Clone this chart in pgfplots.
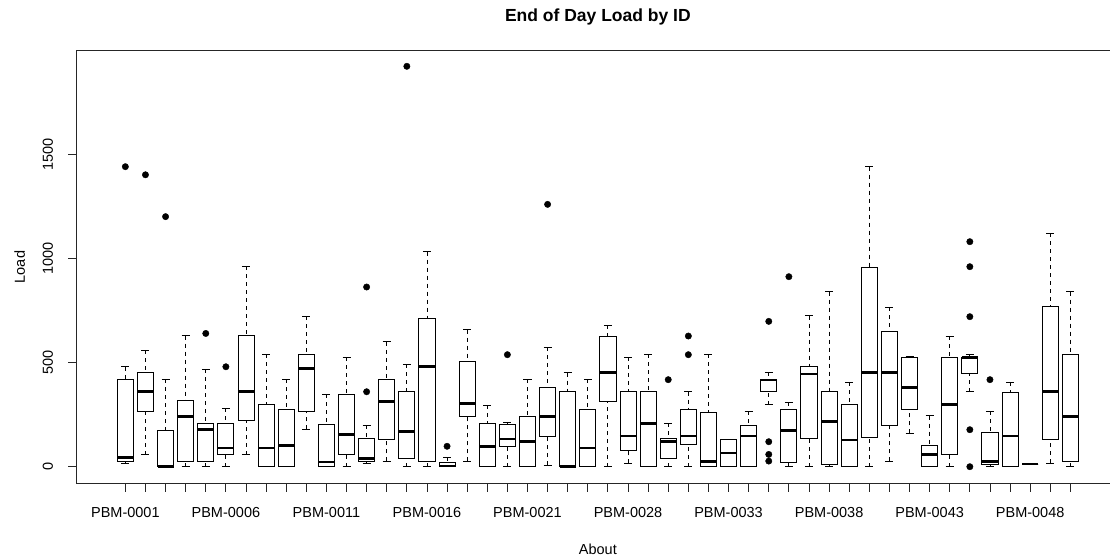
\documentclass[border=0pt]{standalone}
\usepackage{fontspec}
\setmainfont{Liberation Sans}
\usepackage{pgfplots}
\pgfplotsset{compat=1.18}
\usepgfplotslibrary{statistics}

\newcommand{\lblfont}{\fontsize{14.5}{17}\selectfont}

\pgfplotsset{
  rbox/.style={black, line width=0.9pt, mark=none},
}

\begin{document}
\begin{tikzpicture}
\useasboundingbox (-76.7pt,-72.7pt) rectangle (1033.3pt,483.3pt);
\begin{axis}[
    at={(0pt,0pt)}, anchor=south west,
    scale only axis,
    width=1042.3pt, height=432.6pt,
    xmin=-1.42, xmax=50.42,
    ymin=-79.7, ymax=1998,
    axis line style={black!85, line width=0.9pt},
    tick align=outside, tick pos=left,
    major tick length=8.4pt,
    every tick/.style={black!85, line width=0.9pt},
    xtick={1,...,48},
    xticklabels={PBM-0001,{},{},{},{},PBM-0006,{},{},{},{},PBM-0011,{},{},{},{},PBM-0016,{},{},{},{},PBM-0021,{},{},{},{},PBM-0028,{},{},{},{},PBM-0033,{},{},{},{},PBM-0038,{},{},{},{},PBM-0043,{},{},{},{},PBM-0048,{},{}},
    ytick={0,500,1000,1500},
    /pgf/number format/assume math mode=true,
    /pgf/number format/1000 sep={},
    xticklabel style={font=\lblfont, anchor=north, inner sep=0pt, yshift=-15.3pt},
    yticklabel style={font=\lblfont, xshift=-15pt, rotate=90, anchor=south, inner sep=0pt},
    title={End of Day Load by ID},
    every axis title/.style={at={(axis description cs:0.5,1)}, anchor=base, yshift=28.7pt,
      font=\bfseries\fontsize{17.5}{20}\selectfont},
    xlabel={About},
    every axis x label/.style={at={(axis description cs:0.5,0)}, anchor=base, yshift=-71pt, font=\lblfont},
    ylabel={Load},
    every axis y label/.style={at={(axis description cs:0,0.5)}, xshift=-51.7pt, rotate=90, anchor=base, font=\lblfont},
    boxplot/draw direction=y,
    boxplot/box extend=0.8,
    boxplot/whisker extend=0.4,
    boxplot/every median/.style={line width=2.8pt},
    boxplot/every box/.style={line width=0.9pt},
    boxplot/draw/lower whisker/.code={%
      \draw[dash pattern=on 4pt off 4pt] (boxplot cs:\pgfplotsboxplotvalue{lower whisker}) -- (boxplot cs:\pgfplotsboxplotvalue{lower quartile});
      \draw[solid] (boxplot whisker cs:\pgfplotsboxplotvalue{lower whisker},0) -- (boxplot whisker cs:\pgfplotsboxplotvalue{lower whisker},1);
    },
    boxplot/draw/upper whisker/.code={%
      \draw[dash pattern=on 4pt off 4pt] (boxplot cs:\pgfplotsboxplotvalue{upper whisker}) -- (boxplot cs:\pgfplotsboxplotvalue{upper quartile});
      \draw[solid] (boxplot whisker cs:\pgfplotsboxplotvalue{upper whisker},0) -- (boxplot whisker cs:\pgfplotsboxplotvalue{upper whisker},1);
    },
]
\addplot[rbox, boxplot prepared={draw position=1, lower whisker=17.6, lower quartile=25.6, median=44.8, upper quartile=419.5, upper whisker=480}] coordinates {};
\addplot[rbox, boxplot prepared={draw position=2, lower whisker=57.6, lower quartile=267, median=360, upper quartile=453, upper whisker=560}] coordinates {};
\addplot[rbox, boxplot prepared={draw position=3, lower whisker=0, lower quartile=0, median=2, upper quartile=174.5, upper whisker=419.5}] coordinates {};
\addplot[rbox, boxplot prepared={draw position=4, lower whisker=0, lower quartile=25.6, median=243, upper quartile=320, upper whisker=629}] coordinates {};
\addplot[rbox, boxplot prepared={draw position=5, lower whisker=0, lower quartile=25.6, median=178, upper quartile=208, upper whisker=467.5}] coordinates {};
\addplot[rbox, boxplot prepared={draw position=6, lower whisker=0, lower quartile=57.6, median=90, upper quartile=208, upper whisker=280}] coordinates {};
\addplot[rbox, boxplot prepared={draw position=7, lower whisker=57.6, lower quartile=224, median=360, upper quartile=629, upper whisker=962}] coordinates {};
\addplot[rbox, boxplot prepared={draw position=8, lower whisker=0, lower quartile=0, median=90, upper quartile=299, upper whisker=539.5}] coordinates {};
\addplot[rbox, boxplot prepared={draw position=9, lower whisker=0, lower quartile=0, median=102.5, upper quartile=277, upper whisker=419.5}] coordinates {};
\addplot[rbox, boxplot prepared={draw position=10, lower whisker=179, lower quartile=267, median=472, upper quartile=539.5, upper whisker=722}] coordinates {};
\addplot[rbox, boxplot prepared={draw position=11, lower whisker=0, lower quartile=0, median=22.4, upper quartile=205, upper whisker=347}] coordinates {};
\addplot[rbox, boxplot prepared={draw position=12, lower whisker=0, lower quartile=57.6, median=155, upper quartile=347, upper whisker=525}] coordinates {};
\addplot[rbox, boxplot prepared={draw position=13, lower whisker=17.6, lower quartile=25.6, median=40, upper quartile=134.5, upper whisker=200}] coordinates {};
\addplot[rbox, boxplot prepared={draw position=14, lower whisker=25.6, lower quartile=133, median=315, upper quartile=419.5, upper whisker=600}] coordinates {};
\addplot[rbox, boxplot prepared={draw position=15, lower whisker=0, lower quartile=40, median=168, upper quartile=360, upper whisker=491.5}] coordinates {};
\addplot[rbox, boxplot prepared={draw position=16, lower whisker=0, lower quartile=25.6, median=480, upper quartile=712.5, upper whisker=1033}] coordinates {};
\addplot[rbox, boxplot prepared={draw position=17, lower whisker=0, lower quartile=0, median=3, upper quartile=20.8, upper whisker=44.8}] coordinates {};
\addplot[rbox, boxplot prepared={draw position=18, lower whisker=25.6, lower quartile=240, median=302.6, upper quartile=507.5, upper whisker=658}] coordinates {};
\addplot[rbox, boxplot prepared={draw position=19, lower whisker=0, lower quartile=0, median=97.7, upper quartile=208, upper whisker=296}] coordinates {};
\addplot[rbox, boxplot prepared={draw position=20, lower whisker=0, lower quartile=97.7, median=133, upper quartile=203, upper whisker=211}] coordinates {};
\addplot[rbox, boxplot prepared={draw position=21, lower whisker=0, lower quartile=0, median=120, upper quartile=240, upper whisker=419.5}] coordinates {};
\addplot[rbox, boxplot prepared={draw position=22, lower whisker=8, lower quartile=144, median=240, upper quartile=382.6, upper whisker=573}] coordinates {};
\addplot[rbox, boxplot prepared={draw position=23, lower whisker=0, lower quartile=0, median=1, upper quartile=360, upper whisker=451.5}] coordinates {};
\addplot[rbox, boxplot prepared={draw position=24, lower whisker=0, lower quartile=0, median=89.7, upper quartile=275, upper whisker=419.5}] coordinates {};
\addplot[rbox, boxplot prepared={draw position=25, lower whisker=0, lower quartile=315, median=451.5, upper quartile=627.6, upper whisker=680}] coordinates {};
\addplot[rbox, boxplot prepared={draw position=26, lower whisker=16, lower quartile=80, median=147, upper quartile=360, upper whisker=525}] coordinates {};
\addplot[rbox, boxplot prepared={draw position=27, lower whisker=0, lower quartile=0, median=208, upper quartile=360, upper whisker=539.5}] coordinates {};
\addplot[rbox, boxplot prepared={draw position=28, lower whisker=0, lower quartile=40, median=120, upper quartile=137.7, upper whisker=208}] coordinates {};
\addplot[rbox, boxplot prepared={draw position=29, lower whisker=0, lower quartile=105.7, median=147, upper quartile=275, upper whisker=360}] coordinates {};
\addplot[rbox, boxplot prepared={draw position=30, lower whisker=0, lower quartile=0, median=24, upper quartile=262.6, upper whisker=539.5}] coordinates {};
\addplot[rbox, boxplot prepared={draw position=31, lower whisker=0, lower quartile=0, median=65.6, upper quartile=133, upper whisker=133}] coordinates {};
\addplot[rbox, boxplot prepared={draw position=32, lower whisker=0, lower quartile=0, median=147, upper quartile=200, upper whisker=267}] coordinates {};
\addplot[rbox, boxplot prepared={draw position=33, lower whisker=298, lower quartile=360, median=416, upper quartile=419.5, upper whisker=453}] coordinates {};
\addplot[rbox, boxplot prepared={draw position=34, lower whisker=0, lower quartile=20.8, median=173, upper quartile=275, upper whisker=309}] coordinates {};
\addplot[rbox, boxplot prepared={draw position=35, lower whisker=0, lower quartile=137.7, median=445, upper quartile=480, upper whisker=725}] coordinates {};
\addplot[rbox, boxplot prepared={draw position=36, lower whisker=0, lower quartile=12.8, median=219, upper quartile=360, upper whisker=840.5}] coordinates {};
\addplot[rbox, boxplot prepared={draw position=37, lower whisker=0, lower quartile=0, median=128, upper quartile=298, upper whisker=405}] coordinates {};
\addplot[rbox, boxplot prepared={draw position=38, lower whisker=0, lower quartile=141, median=451.5, upper quartile=956, upper whisker=1441}] coordinates {};
\addplot[rbox, boxplot prepared={draw position=39, lower whisker=25.6, lower quartile=198.5, median=451.5, upper quartile=650, upper whisker=765}] coordinates {};
\addplot[rbox, boxplot prepared={draw position=40, lower whisker=160, lower quartile=275, median=379.4, upper quartile=525, upper whisker=531.5}] coordinates {};
\addplot[rbox, boxplot prepared={draw position=41, lower whisker=0, lower quartile=0, median=57.6, upper quartile=102.5, upper whisker=245}] coordinates {};
\addplot[rbox, boxplot prepared={draw position=42, lower whisker=0, lower quartile=57.6, median=298, upper quartile=525, upper whisker=627.6}] coordinates {};
\addplot[rbox, boxplot prepared={draw position=43, lower whisker=360, lower quartile=448, median=523.5, upper quartile=525, upper whisker=539.5}] coordinates {};
\addplot[rbox, boxplot prepared={draw position=44, lower whisker=0, lower quartile=12.8, median=24, upper quartile=165, upper whisker=267}] coordinates {};
\addplot[rbox, boxplot prepared={draw position=45, lower whisker=0, lower quartile=0, median=147, upper quartile=357, upper whisker=405}] coordinates {};
\addplot[rbox, boxplot prepared={draw position=46, lower whisker=12.8, lower quartile=12.8, median=12.8, upper quartile=12.8, upper whisker=12.8}] coordinates {};
\addplot[rbox, boxplot prepared={draw position=47, lower whisker=17.6, lower quartile=133, median=360, upper quartile=770, upper whisker=1122}] coordinates {};
\addplot[rbox, boxplot prepared={draw position=48, lower whisker=0, lower quartile=25.6, median=240, upper quartile=539.5, upper whisker=840.5}] coordinates {};
% outliers
\addplot[only marks, mark=*, mark size=3.2pt, black] coordinates {
  (1,1441) (2,1402) (3,1201) (5,640) (6,480) (13,863) (13,360) (15,1923)
  (17,98) (20,538) (22,1260) (28,418) (29,627.6) (29,538)
  (33,698) (33,120) (33,59) (33,27) (34,912.6)
  (43,1080.7) (43,960.6) (43,720.5) (43,177.7) (43,0) (44,418)
};
\end{axis}
\end{tikzpicture}
\end{document}
